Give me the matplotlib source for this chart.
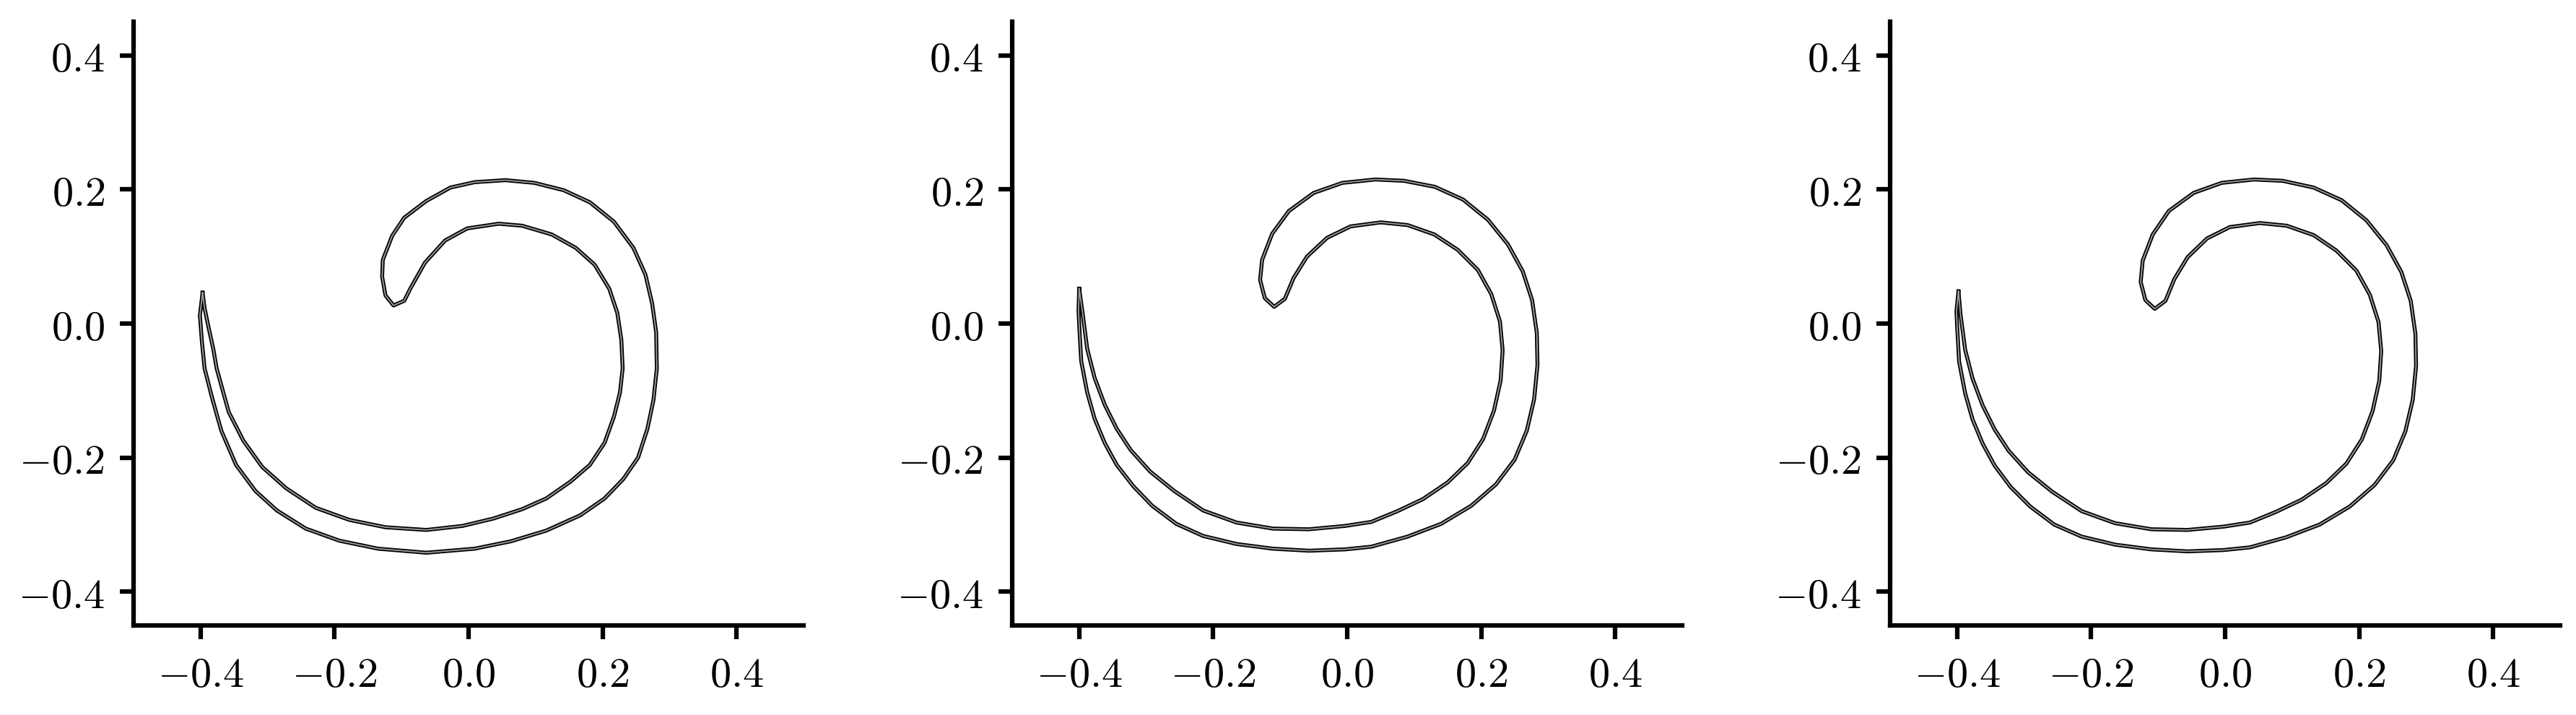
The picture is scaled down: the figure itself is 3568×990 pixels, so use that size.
import matplotlib
matplotlib.use("Agg")
import matplotlib.pyplot as plt
import matplotlib.patheffects as pe
from matplotlib.ticker import FuncFormatter

plt.rcParams['mathtext.fontset'] = 'cm'

# material line, walked once round the loop
# (tip -> outer arm -> hook -> inner arm -> back to tip)
x1 = [-0.397, -0.401, -0.398, -0.394, -0.383, -0.369, -0.347, -0.318, -0.286, -0.243,
      -0.193, -0.135, -0.063, 0.009, 0.063, 0.116, 0.167, 0.203, 0.231, 0.253,
      0.267, 0.276, 0.281, 0.280, 0.274, 0.264, 0.246, 0.217, 0.181, 0.142,
      0.098, 0.055, 0.009, -0.027, -0.063, -0.096, -0.114, -0.128, -0.129, -0.124,
      -0.112, -0.096, -0.087, -0.065, -0.035, -0.002, 0.045, 0.080, 0.124, 0.160, 0.188,
      0.210, 0.222, 0.228, 0.230, 0.226, 0.217, 0.203, 0.181, 0.152, 0.116,
      0.080, 0.037, -0.009, -0.063, -0.124, -0.178, -0.228, -0.272, -0.308, -0.336,
      -0.358, -0.376, -0.381, -0.388, -0.394]
y1 = [0.046, 0.012, -0.027, -0.067, -0.110, -0.160, -0.211, -0.250, -0.279, -0.306,
      -0.324, -0.336, -0.342, -0.336, -0.325, -0.309, -0.286, -0.261, -0.232, -0.200,
      -0.157, -0.114, -0.067, -0.013, 0.030, 0.073, 0.113, 0.152, 0.181, 0.199,
      0.210, 0.214, 0.211, 0.203, 0.183, 0.158, 0.131, 0.095, 0.070, 0.042,
      0.027, 0.034, 0.052, 0.091, 0.124, 0.142, 0.149, 0.146, 0.133, 0.113, 0.088,
      0.052, 0.016, -0.024, -0.067, -0.103, -0.139, -0.178, -0.211, -0.236, -0.261,
      -0.277, -0.291, -0.302, -0.308, -0.304, -0.293, -0.275, -0.246, -0.214, -0.175,
      -0.132, -0.067, -0.038, -0.006, 0.023]

x2 = [-0.400, -0.401, -0.400, -0.397, -0.388, -0.377, -0.362, -0.344, -0.319, -0.291,
      -0.255, -0.215, -0.165, -0.111, -0.057, -0.003, 0.036, 0.090, 0.140, 0.185,
      0.222, 0.250, 0.268, 0.279, 0.284, 0.283, 0.276, 0.262, 0.240, 0.210,
      0.173, 0.131, 0.085, 0.042, -0.007, -0.050, -0.087, -0.112, -0.127, -0.130,
      -0.123, -0.109, -0.093, -0.080, -0.060, -0.030, 0.005, 0.050, 0.090, 0.130,
      0.165, 0.195, 0.215, 0.228, 0.232, 0.229, 0.219, 0.203, 0.180, 0.150,
      0.113, 0.075, 0.036, -0.003, -0.057, -0.111, -0.165, -0.215, -0.258, -0.294,
      -0.323, -0.344, -0.362, -0.377, -0.388, -0.395]
y2 = [0.052, 0.020, -0.002, -0.056, -0.103, -0.142, -0.178, -0.211, -0.243, -0.272,
      -0.299, -0.317, -0.329, -0.336, -0.339, -0.337, -0.333, -0.318, -0.299, -0.272,
      -0.240, -0.203, -0.160, -0.113, -0.062, -0.014, 0.035, 0.078, 0.118, 0.155,
      0.185, 0.204, 0.213, 0.215, 0.210, 0.195, 0.168, 0.134, 0.095, 0.065,
      0.038, 0.025, 0.037, 0.068, 0.100, 0.128, 0.145, 0.151, 0.147, 0.133,
      0.110, 0.080, 0.044, 0.003, -0.040, -0.085, -0.130, -0.172, -0.208, -0.237,
      -0.262, -0.280, -0.296, -0.302, -0.307, -0.306, -0.297, -0.279, -0.250, -0.221,
      -0.189, -0.157, -0.121, -0.081, -0.038, 0.016]

x3 = [-0.398, -0.401, -0.400, -0.397, -0.388, -0.377, -0.362, -0.344, -0.320, -0.291,
      -0.255, -0.214, -0.164, -0.110, -0.056, -0.002, 0.037, 0.091, 0.141, 0.186,
      0.223, 0.251, 0.269, 0.280, 0.285, 0.284, 0.277, 0.263, 0.241, 0.211,
      0.174, 0.132, 0.086, 0.043, -0.005, -0.047, -0.084, -0.108, -0.123, -0.126,
      -0.119, -0.105, -0.089, -0.076, -0.056, -0.027, 0.007, 0.052, 0.092, 0.132,
      0.166, 0.196, 0.216, 0.229, 0.233, 0.230, 0.220, 0.204, 0.181, 0.151,
      0.114, 0.076, 0.037, -0.002, -0.056, -0.110, -0.164, -0.214, -0.258, -0.294,
      -0.323, -0.344, -0.362, -0.377, -0.388, -0.395]
y3 = [0.048, 0.018, -0.004, -0.057, -0.104, -0.143, -0.179, -0.212, -0.244, -0.273,
      -0.300, -0.318, -0.330, -0.337, -0.340, -0.338, -0.334, -0.319, -0.300, -0.273,
      -0.241, -0.204, -0.161, -0.114, -0.063, -0.015, 0.034, 0.077, 0.117, 0.154,
      0.184, 0.203, 0.213, 0.215, 0.210, 0.195, 0.168, 0.133, 0.094, 0.062,
      0.035, 0.022, 0.034, 0.066, 0.099, 0.127, 0.144, 0.150, 0.146, 0.132,
      0.109, 0.079, 0.043, 0.002, -0.041, -0.086, -0.131, -0.173, -0.209, -0.238,
      -0.263, -0.281, -0.297, -0.303, -0.308, -0.307, -0.298, -0.280, -0.251, -0.222,
      -0.190, -0.158, -0.122, -0.082, -0.039, 0.014]

ticks = [-0.4, -0.2, 0.0, 0.2, 0.4]

W, H = 3568, 990
fig = plt.figure(figsize=(W / 300, H / 300), dpi=300)

lefts = [185, 1402, 2618]
for left, xs, ys in zip(lefts, [x1, x2, x3], [y1, y2, y3]):
    ax = fig.add_axes([left / W, 124.5 / H, 928 / W, 835 / H])
    # hollow tube look of the dense open markers
    ax.plot(xs + [xs[0]], ys + [ys[0]], color='#9a9a9a', lw=0.45,
            solid_joinstyle='round',
            path_effects=[pe.Stroke(linewidth=1.3, foreground='black'), pe.Normal()])
    ax.set_xlim(-0.5, 0.5)
    ax.set_ylim(-0.45, 0.45)
    ax.set_xticks(ticks)
    ax.set_yticks(ticks)
    fmt = FuncFormatter(lambda v, p: r'$%.1f$' % v)
    ax.xaxis.set_major_formatter(fmt)
    ax.yaxis.set_major_formatter(fmt)
    ax.spines['top'].set_visible(False)
    ax.spines['right'].set_visible(False)
    ax.spines['left'].set_linewidth(1.5)
    ax.spines['bottom'].set_linewidth(1.5)
    ax.tick_params(length=4.6, width=1.5, labelsize=14, pad=5)

fig.savefig('out.png', dpi=300)
